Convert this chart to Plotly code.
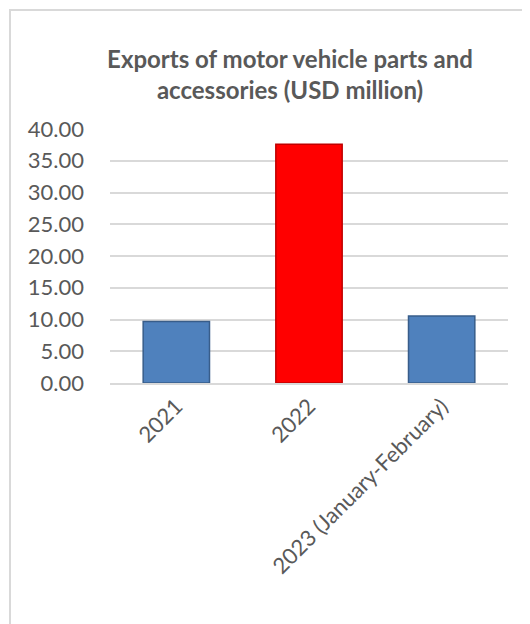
import plotly.graph_objects as go

categories = ["2021", "2022", "2023 (January-February)"]
values = [9.7, 37.6, 10.55]
bar_colors = ["#4F81BD", "#FF0000", "#4F81BD"]
line_colors = ["#385D8A", "#C00000", "#385D8A"]
title_text = "<b>Exports of motor vehicle parts and<br>accessories (USD million)</b>"

# page body has an 8px margin, so the figure is shifted by 8px
OFF = 8
W, H = 530 - OFF, 624 - OFF
L, R, T, B = 110 - OFF, 22, 129 - OFF, 241
pw, ph = W - L - R, H - T - B

fig = go.Figure(go.Bar(
    x=categories, y=values,
    marker=dict(color=bar_colors, line=dict(color=line_colors, width=1.5)),
    width=0.5,
))

def px_x(p):
    return (p - OFF - L) / pw

def px_y(p):
    return (H - B - (p - OFF)) / ph

fig.update_layout(
    width=W, height=H,
    margin=dict(l=L, r=R, t=T, b=B),
    paper_bgcolor="white", plot_bgcolor="white",
    font=dict(family="Lato, Carlito, sans-serif", color="#595959"),
    title=dict(text=title_text, x=(290 - OFF) / W, xanchor="center", xref="container",
               y=1 - (68 - OFF) / H, yanchor="middle", yref="container",
               font=dict(size=24, color="#595959", family="Lato, sans-serif")),
    showlegend=False,
    xaxis=dict(tickangle=-45, tickfont=dict(size=22, color="#595959"),
               showline=True, linecolor="#D9D9D9", linewidth=1.5,
               ticks="", showgrid=False),
    yaxis=dict(range=[0, 40], dtick=5, tickformat=".2f",
               tickfont=dict(size=22, color="#595959"),
               showgrid=True, gridcolor="#D9D9D9", gridwidth=1.5,
               zeroline=False, showline=False, ticks="", ticklabelstandoff=25),
    shapes=[dict(type="rect", xref="paper", yref="paper",
                 x0=px_x(10), x1=px_x(560), y0=px_y(10), y1=px_y(660),
                 line=dict(color="#D9D9D9", width=2), fillcolor="rgba(0,0,0,0)",
                 layer="below")],
)

fig.write_html("out.html")
